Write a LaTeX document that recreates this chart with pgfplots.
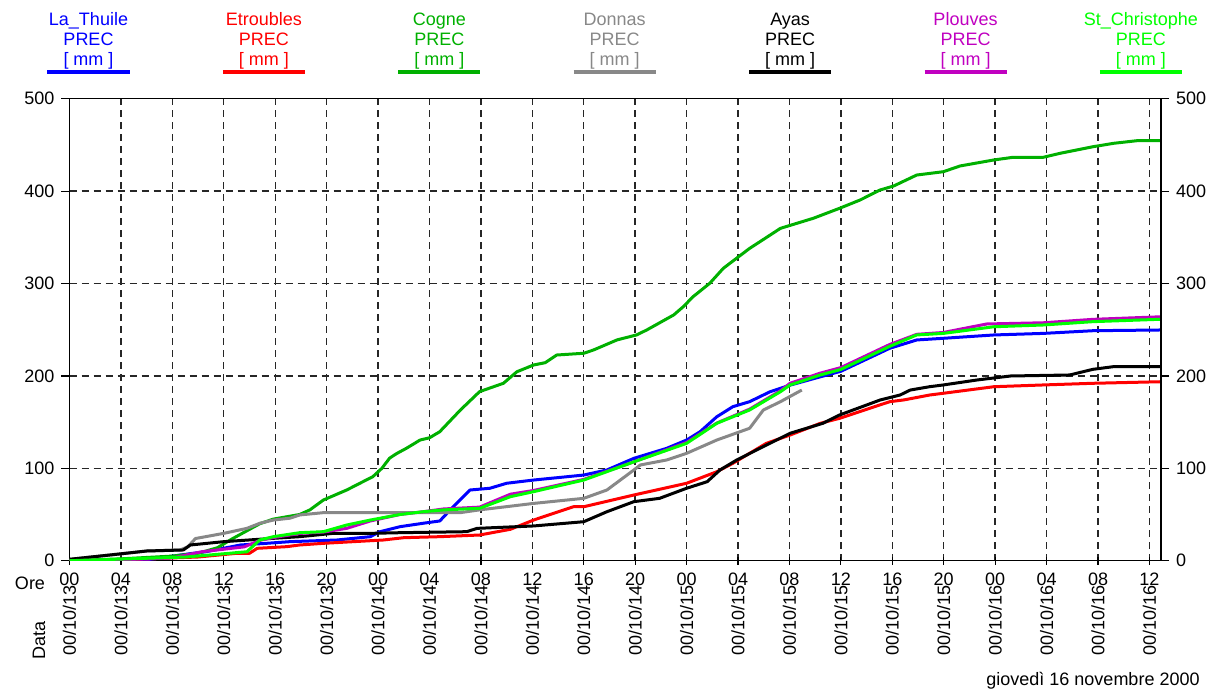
\documentclass[border=0pt]{standalone}
\usepackage{fontspec}
\setmainfont{Liberation Sans}
\usepackage{graphicx}
\usepackage{pgfplots}
\pgfplotsset{compat=1.18}

\definecolor{lathuile}{RGB}{0,0,255}
\definecolor{etroubles}{RGB}{255,0,0}
\definecolor{cogne}{RGB}{0,176,0}
\definecolor{donnas}{RGB}{136,136,136}
\definecolor{ayas}{RGB}{0,0,0}
\definecolor{plouves}{RGB}{192,0,192}
\definecolor{stchr}{RGB}{0,255,0}

% hour on top, rotated date below
\newcommand{\tl}[2]{\begin{tabular}{@{}c@{}}#1\\[-3pt]\rotatebox{90}{#2}\end{tabular}}

\begin{document}
\begin{tikzpicture}[font=\fontsize{9}{10}\selectfont]
\useasboundingbox (-34.75pt,-67.15pt) rectangle (571.75pt,280.35pt);

\begin{axis}[
    at={(0,0)}, anchor=south west,
    scale only axis,
    width=545.75pt, height=231pt,
    xmin=0, xmax=84.9,
    ymin=0, ymax=500,
    axis line style={line width=0.6pt},
    xtick={0,4,...,84},
    xticklabels={
      \tl{00}{00/10/13},\tl{04}{00/10/13},\tl{08}{00/10/13},\tl{12}{00/10/13},\tl{16}{00/10/13},\tl{20}{00/10/13},
      \tl{00}{00/10/14},\tl{04}{00/10/14},\tl{08}{00/10/14},\tl{12}{00/10/14},\tl{16}{00/10/14},\tl{20}{00/10/14},
      \tl{00}{00/10/15},\tl{04}{00/10/15},\tl{08}{00/10/15},\tl{12}{00/10/15},\tl{16}{00/10/15},\tl{20}{00/10/15},
      \tl{00}{00/10/16},\tl{04}{00/10/16},\tl{08}{00/10/16},\tl{12}{00/10/16}},
    xtick pos=bottom,
    xtick align=center,
    ytick={0,100,...,500},
    ytick pos=left,
    ytick align=outside,
    major tick length=4pt,
    tick style={black, line width=0.6pt},
    /pgf/number format/assume math mode=true,
    grid=major,
    major grid style={dash pattern=on 3.5pt off 2.5pt, black!85, line width=0.7pt},
    every axis plot/.append style={line width=1.5pt, line join=round},
]
% La_Thuile
\addplot[lathuile] coordinates {
(0,0) (3.2,0) (6,1) (9.6,8) (10.6,9.7) (13.3,17) (15.3,18.8) (17.15,20.6)
(20.8,22.4) (23.4,26) (24.15,31.4) (25.7,36.8) (27.5,40.5) (28.8,43)
(29.85,58.4) (31.15,76.5) (32.7,78.4) (34.0,83.8) (36.1,87.3) (40.0,92.7)
(41.8,98.2) (43.9,110.8) (46.45,121.6) (48.0,130.6) (49.05,139.6) (50.35,155.8)
(51.6,166.7) (52.9,172.1) (54.5,182.9) (56.05,190) (58.4,199) (60,205)
(63.8,229.9) (65.9,238.9) (67.97,240.7) (71.9,244.3) (75.75,246) (79.6,248.9)
(84.9,249.7)
};
% Etroubles
\addplot[etroubles] coordinates {
(0,0) (6,2) (10,4) (13.0,8) (14.0,8) (14.6,13.4) (16.9,15.2) (17.9,17)
(19.75,18.8) (24.4,22.4) (26,24.9) (28.8,26) (31.9,27.8) (34.3,34) (36.1,44)
(39.2,58.4) (40.0,58.4) (43.9,71.1) (48.0,83.8) (50.35,96.3) (51.6,105.4)
(54.2,127) (56.05,136) (58.4,148.7) (59.9,154.1) (63.8,172.1) (64.9,174)
(66.9,179.3) (67.97,181.2) (71.9,188.3) (75.75,190.2) (79.6,192) (84.9,193.7)
};
% Cogne
\addplot[cogne] coordinates {
(0,0) (4,2) (8,5) (10,8) (11.5,14) (12.7,24) (14.8,40) (15.85,45) (17.9,50)
(18.7,55) (19.75,65.7) (21.56,76.5) (23.6,91) (24.3,100) (24.9,111) (25.45,116)
(26.2,121.6) (27.27,130.6) (28.0,133) (28.8,139.6) (30.4,163) (31.9,183)
(33.75,192) (34.8,204.5) (36.1,211.8) (37.0,214.3) (37.9,222.6) (40.0,224.5)
(40.75,228) (42.6,239) (44.1,244.3) (44.9,249.7) (47.0,266) (47.75,275)
(48.5,285.7) (49.8,300.2) (50.86,316.5) (52.9,338) (53.7,345.2) (55.3,359.7)
(57.86,370.6) (59.9,381.4) (61.5,390.4) (63.05,401.2) (64.1,405.5) (65.9,417.4)
(67.97,421) (69.27,427.2) (71.9,433.7) (73.4,436.6) (75.75,436.6) (77.05,440.9)
(79.6,448) (81.2,451.7) (83.0,454.5) (84.9,454.5)
};
% Donnas
\addplot[donnas] coordinates {
(0,1.5) (3.9,7.3) (6,10.5) (8.6,11.6) (9.2,15) (9.8,24) (12.0,29.6) (13.8,35)
(14.8,40.5) (15.85,44) (17.15,46) (17.9,49.5) (19.75,52) (30.4,52) (31.9,55)
(36.1,62) (40.0,67.5) (41.8,76.5) (43.9,98.2) (44.4,103.6) (46.45,109)
(48.0,116.2) (50.35,130.6) (52.9,143.3) (53.97,163.1) (55.3,172.1) (56.96,184.7)
};
% Ayas
\addplot[ayas] coordinates {
(0,1.5) (3.9,7.3) (6,10.5) (8.85,11.6) (9.4,17) (12.0,20.6) (15.85,24.2)
(17.9,26) (20.5,29.6) (23.4,29.6) (25.7,30.3) (30.9,31.4) (31.7,35) (36.1,37.6)
(40.0,42.2) (41.8,53) (43.9,63.9) (45.9,67.5) (48.0,78.4) (49.6,85.5)
(50.6,98.2) (51.9,109) (53.7,121.6) (56.05,137.9) (58.6,148.7) (59.9,157.7)
(63.05,173.9) (64.6,179.3) (65.4,184.7) (66.9,188.3) (67.97,190.2) (70.6,195.6)
(73.2,199.9) (77.8,201) (79.6,207.1) (81.2,210) (84.9,210)
};
% Plouves
\addplot[plouves] coordinates {
(0,0) (4,1) (8,3) (10.3,9.7) (13.6,15) (14.8,22) (15.85,25) (17.9,29.5)
(19.75,31) (21.56,35) (23.4,43) (25.7,50) (27.5,53) (29.1,56) (31.9,58)
(34.3,72) (36.1,76) (40.0,88) (43.9,107) (48.0,128) (50.35,149) (52.9,164)
(55.3,184) (56.05,192) (58.4,203) (60,209) (63.8,234) (65.9,245) (67.97,247)
(71.35,256.2) (75.75,257.5) (79.6,261.2) (84.9,264)
};
% St_Christophe
\addplot[stchr] coordinates {
(0,0) (9.1,4) (13.8,9.7) (14.8,22.4) (15.85,26) (17.9,30.3) (19.75,31.4)
(21.56,38.6) (23.4,44) (25.7,50) (27.5,53) (29.1,55) (31.9,56.7) (34.3,69.3)
(36.1,74.7) (40.0,87.3) (43.9,107) (48.0,127) (50.35,148.7) (52.9,163.1)
(55.3,182.9) (56.05,190.2) (58.4,201) (60,207) (63.8,232) (65.9,244.3)
(67.97,246) (71.9,253.2) (75.75,255.1) (79.6,258.7) (84.9,261.3)
};
\end{axis}

% right-hand labels
\begin{axis}[
    at={(0,0)}, anchor=south west,
    scale only axis,
    width=545.75pt, height=231pt,
    xmin=0, xmax=84.9,
    ymin=0, ymax=500,
    axis x line=none,
    axis y line*=right,
    axis line style={line width=0.6pt, -},
    ytick={0,100,...,500},
    ytick align=outside,
    major tick length=4pt,
    tick style={black, line width=0.6pt},
    /pgf/number format/assume math mode=true,
]
\end{axis}

% legend
\foreach \i/\n/\c in {0/La\_Thuile/lathuile, 1/Etroubles/etroubles, 2/Cogne/cogne,
    3/Donnas/donnas, 4/Ayas/ayas, 5/Plouves/plouves, 6/St\_Christophe/stchr} {
  \pgfmathsetmacro{\xx}{9.5+87.7*\i}
  \node[anchor=base, text=\c, inner sep=0pt] at (\xx pt,267.6pt) {\n};
  \node[anchor=base, text=\c, inner sep=0pt] at (\xx pt,257.6pt) {PREC};
  \node[anchor=base, text=\c, inner sep=0pt] at (\xx pt,247.6pt) {[ mm ]};
  \draw[\c, line width=2pt] (\xx pt-20.5pt,244.35pt) -- (\xx pt+20.5pt,244.35pt);
}

\node at (-19.75pt,-11.15pt) {Ore};
\node[rotate=90] at (-15.25pt,-39.65pt) {Data};
\node at (511.75pt,-60.15pt) {giovedì 16 novembre 2000};
\end{tikzpicture}
\end{document}
